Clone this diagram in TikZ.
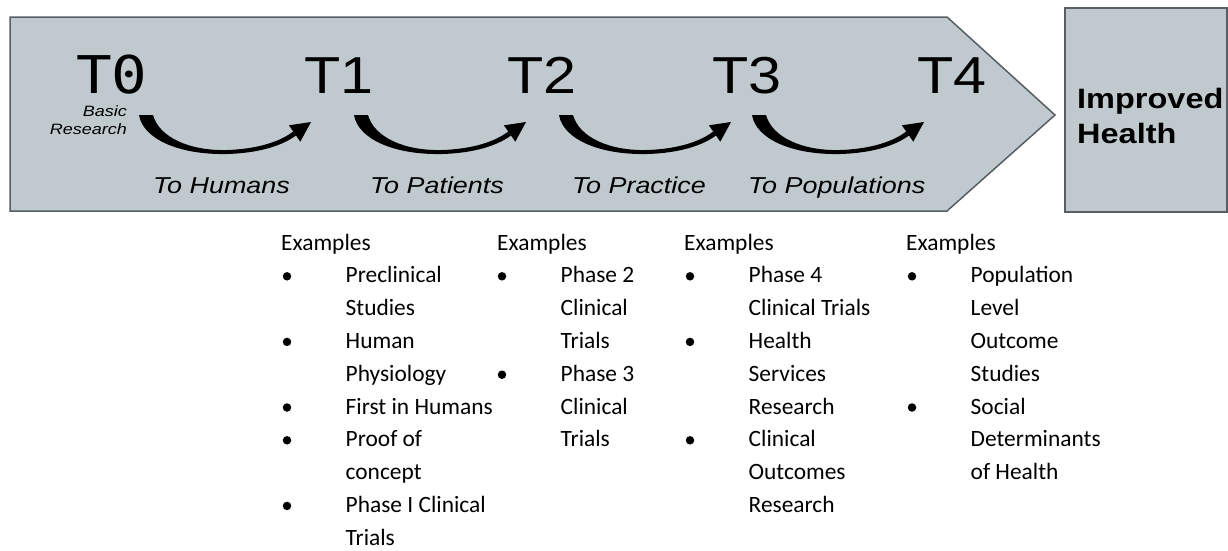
\documentclass[tikz,border=0pt]{standalone}
\usepackage{fontspec}
\usepackage{graphicx}
\setmainfont{Liberation Sans}
\newfontfamily\arialf{Liberation Sans}
\newfontfamily\calib{Carlito}
\newfontfamily\monof{DejaVu Sans Mono}
\definecolor{panel}{RGB}{192,202,206}
\definecolor{edge}{RGB}{85,95,100}
\tikzset{
  tlab/.style={anchor=base west, inner sep=0pt, font=\arialf\fontsize{52}{52}\selectfont},
  tolab/.style={anchor=base west, inner sep=0pt, font=\arialf\itshape\fontsize{23}{23}\selectfont},
  exh/.style={anchor=base west, inner sep=0pt, font=\calib\fontsize{23.4}{23.4}\selectfont},
  bul/.style={circle, fill=black, inner sep=0pt, minimum size=8.5pt},
  pics/tarrow/.style={code={
    \fill (0,0) .. controls (4,24) and (40,40) .. (88,39) .. controls (122,38) and (144,30) .. (157,20.5)
      -- (154.2,16.5) .. controls (142,26) and (120,34) .. (88,35) .. controls (50,36) and (20,22) .. (14,0) -- cycle;
    \fill (172,7) -- (161.3,26.7) -- (149.9,10.3) -- cycle;
  }}
}
\begin{document}
\begin{tikzpicture}[x=1pt,y=-1pt]
\useasboundingbox (0,0) rectangle (1228,550);
\fill[white] (0,0) rectangle (1228,550);
% chevron
\draw[edge, line width=1.5pt, fill=panel] (10,17) -- (947,17) -- (1055,115) -- (947,211) -- (10,211) -- cycle;
% improved health box
\draw[edge, line width=1.5pt, fill=panel] (1065,8) rectangle (1227,212);
\node[anchor=base west, inner sep=0pt, font=\arialf\bfseries\fontsize{28}{28}\selectfont] (ih1) at (1077,108) {\scalebox{1.16}[1]{Improved}};
\node[anchor=base west, inner sep=0pt, font=\arialf\bfseries\fontsize{28}{28}\selectfont] (ih2) at (1077,143) {\scalebox{1.16}[1]{Health}};
% T labels
\node[tlab] (t1) at (304,93) {\scalebox{1.14}[1]{T1}};
\node[tlab] (t2) at (507,93) {\scalebox{1.14}[1]{T2}};
\node[tlab] (t3) at (712,93) {\scalebox{1.14}[1]{T3}};
\node[tlab] (t4) at (917,93) {\scalebox{1.14}[1]{T4}};
\node[anchor=base west, inner sep=0pt, font=\monof\fontsize{52}{52}\selectfont] (t0) at (76,93) {\scalebox{1.14}[1]{T0}};
% basic research
\node[anchor=base east, inner sep=0pt, font=\arialf\itshape\fontsize{15}{15}\selectfont] (br1) at (127,116) {\scalebox{1.2}[1]{Basic}};
\node[anchor=base east, inner sep=0pt, font=\arialf\itshape\fontsize{15}{15}\selectfont] (br2) at (127,134) {\scalebox{1.2}[1]{Research}};
% arrows
\pic at (139,115) {tarrow};
\pic at (354,115) {tarrow};
\pic at (559,115) {tarrow};
\pic at (752,115) {tarrow};
% labels
\node[tolab] (l1) at (153,193) {\scalebox{1.17}[1]{To Humans}};
\node[tolab] (l2) at (370,193) {\scalebox{1.17}[1]{To Patients}};
\node[tolab] (l3) at (572,193) {\scalebox{1.17}[1]{To Practice}};
\node[tolab] (l4) at (748,193) {\scalebox{1.17}[1]{To Populations}};
% examples
\node[exh] (ea) at (281,250) {Examples};
\node[exh] (eb) at (497,250) {Examples};
\node[exh] (ec) at (684,250) {Examples};
\node[exh] (ed) at (906,250) {Examples};
\foreach \n/\t/\b in {1/Preclinical/1, 2/Studies/0, 3/Human/1, 4/Physiology/0, 5/First in Humans/1, 6/Proof of/1, 7/concept/0, 8/Phase I Clinical/1, 9/Trials/0}{
  \node[exh] (ca\n) at (345.5,{250+32.8*\n}) {\t};
  \ifnum\b=1 \node[bul] (ba\n) at (287,{250+32.8*\n-6.5}) {}; \fi
}
\foreach \n/\t/\b in {1/Phase 2/1, 2/Clinical/0, 3/Trials/0, 4/Phase 3/1, 5/Clinical/0, 6/Trials/0}{
  \node[exh] (cb\n) at (560.5,{250+32.8*\n}) {\t};
  \ifnum\b=1 \node[bul] (bb\n) at (502,{250+32.8*\n-6.5}) {}; \fi
}
\foreach \n/\t/\b in {1/Phase 4/1, 2/Clinical Trials/0, 3/Health/1, 4/Services/0, 5/Research/0, 6/Clinical/1, 7/Outcomes/0, 8/Research/0}{
  \node[exh] (cc\n) at (748.5,{250+32.8*\n}) {\t};
  \ifnum\b=1 \node[bul] (bc\n) at (690,{250+32.8*\n-6.5}) {}; \fi
}
\foreach \n/\t/\b in {1/Population/1, 2/Level/0, 3/Outcome/0, 4/Studies/0, 5/Social/1, 6/Determinants/0, 7/of Health/0}{
  \node[exh] (cd\n) at (970.5,{250+32.8*\n}) {\t};
  \ifnum\b=1 \node[bul] (bd\n) at (912,{250+32.8*\n-6.5}) {}; \fi
}
\end{tikzpicture}
\end{document}
